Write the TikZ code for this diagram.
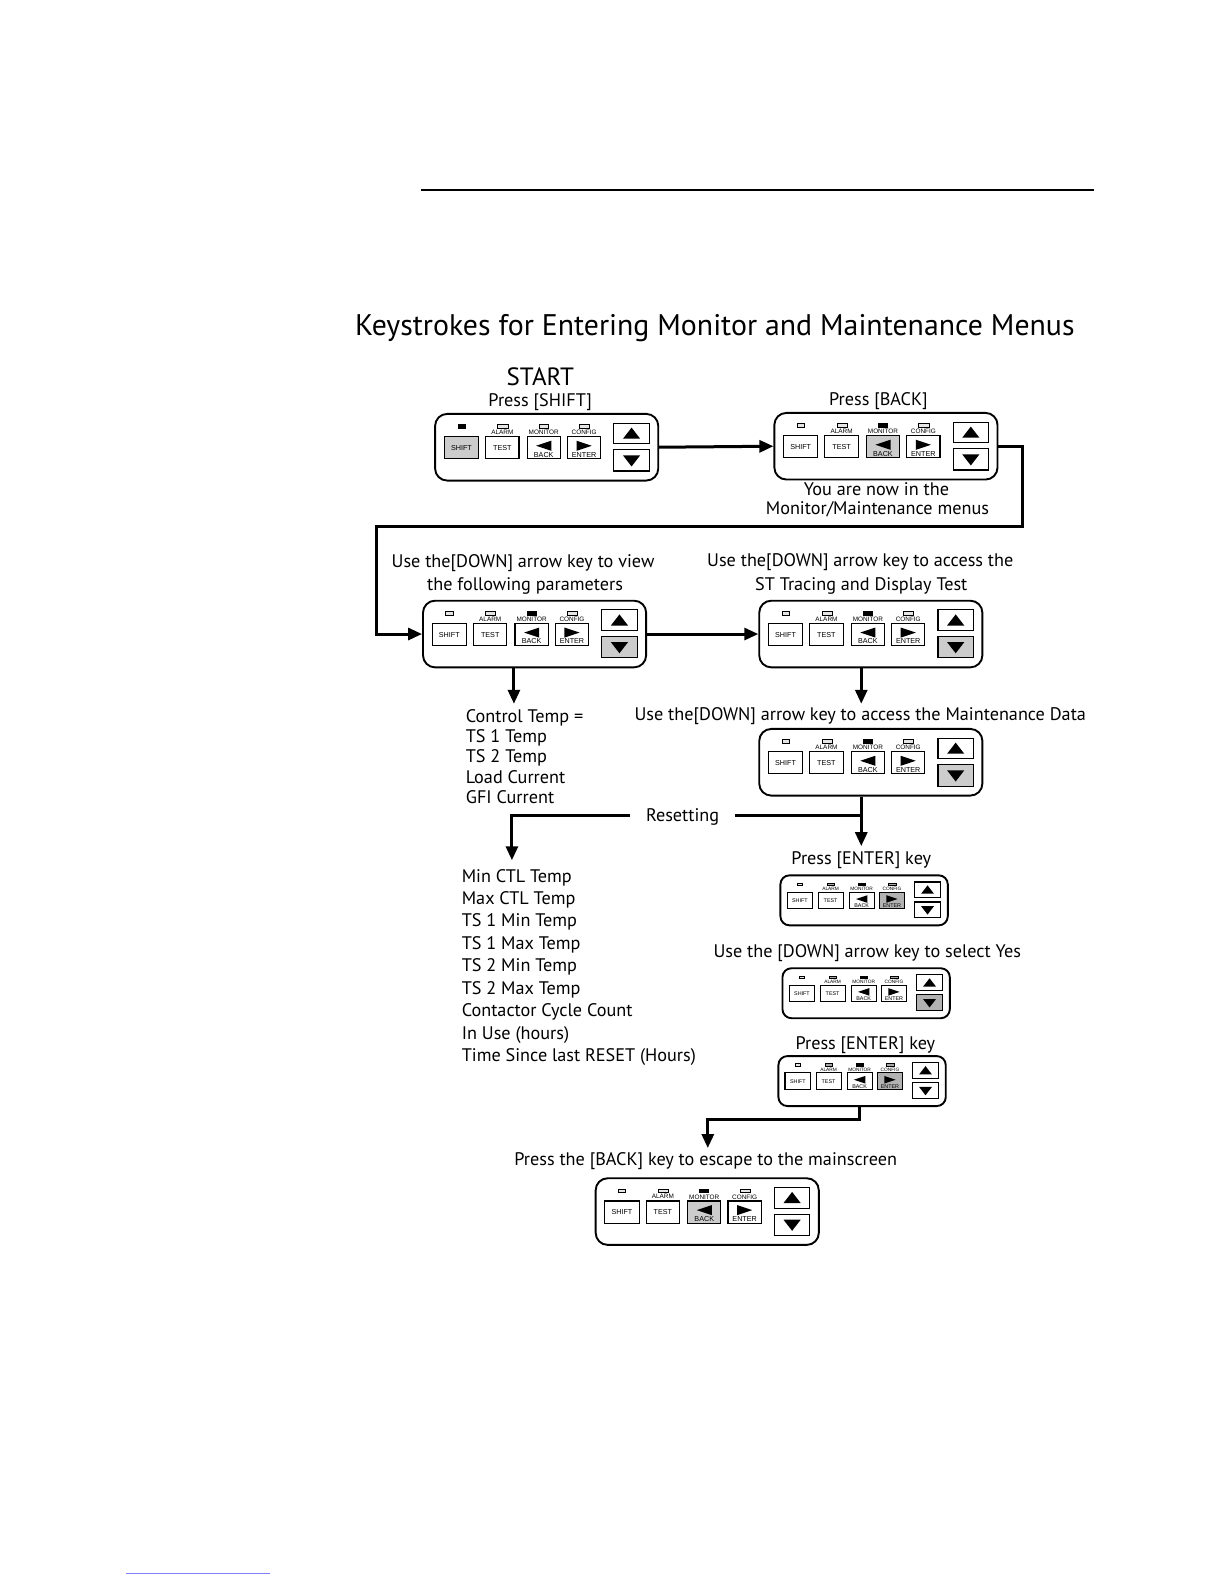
\documentclass[tikz,border=0pt]{standalone}
\usepackage{fontspec}
\setmainfont{PT Sans}
\newfontfamily\keyfont{Liberation Sans}
\usetikzlibrary{arrows.meta}
\newcommand\bodyfont{\fontsize{9.1}{11}\selectfont}
\newcommand\Uu{0.50485}
\tikzset{
 kpbox/.style={draw, line width=0.95pt, inner sep=0pt, fill=white},
 key/.style={draw, line width=0.55pt, fill=white},
 led/.style={draw, line width=0.35pt, fill=gray!20},
 kshift/.style={}, ktest/.style={}, kback/.style={}, kenter/.style={}, kup/.style={}, kdown/.style={},
 ledA/.style={}, ledB/.style={}, ledC/.style={}, ledD/.style={},
 conn/.style={line width=1.5pt, -{Triangle[length=7pt,width=6pt]}},
 plain/.style={line width=1.5pt},
 txt/.style={font=\bodyfont, inner sep=0pt, text height=6.6pt, text depth=0pt},
 ltxt/.style={txt, anchor=west},
 hl/.style={fill=gray!40},
 hldark/.style={fill=gray!60},
}
% #1 name, #2 x, #3 y, #4 scale, #5 options
\newcommand\keypad[5]{%
\begin{scope}[shift={(#2,#3)}, scale=#4, #5]%
\pgfmathsetmacro\kfs{3.6*#4}%
\pgfmathsetmacro\klf{3.2*#4}%
\node[kpbox, rounded corners={6pt*#4}, minimum width={221*\Uu pt*#4}, minimum height={66*\Uu pt*#4}, anchor=north west] (#1) at (0,0) {};%
\draw[led, ledA] (23.5,11.5) rectangle (30.5,15);%
\draw[led, ledB] (63,11.5) rectangle (73,15);%
\draw[led, ledC] (104,11.5) rectangle (113,15);%
\draw[led, ledD] (144,11.5) rectangle (154,15);%
\begin{scope}[every node/.style={inner sep=0pt, font=\keyfont\fontsize{\klf pt}{\klf pt}\selectfont}]%
\node (#1-la) at (67.5,19.3) {ALARM};%
\node (#1-lm) at (108.5,19.3) {MONITOR};%
\node (#1-lc) at (148.5,19.3) {CONFIG};%
\end{scope}%
\draw[key, kshift] (10,23.5) rectangle (44,45.5);%
\draw[key, ktest] (51,23.5) rectangle (84,45.5);%
\draw[key, kback] (92,23.5) rectangle (125,45.5);%
\draw[key, kenter] (132,23.5) rectangle (165,45.5);%
\draw[key, kup] (178,10) rectangle (213,30.5);%
\draw[key, kdown] (178,36.5) rectangle (213,57.5);%
\fill (101,32.5) -- (116,27.5) -- (116,37.5) -- cycle;%
\fill (156,32.5) -- (141,27.5) -- (141,37.5) -- cycle;%
\fill (195.5,14.5) -- (204,25.5) -- (187,25.5) -- cycle;%
\fill (195.5,53) -- (204,42) -- (187,42) -- cycle;%
\begin{scope}[every node/.style={inner sep=0pt, font=\keyfont\fontsize{\kfs pt}{\kfs pt}\selectfont}]%
\node (#1-ks) at (27,34.5) {SHIFT};%
\node (#1-kt) at (67.5,34.5) {TEST};%
\node (#1-kb) at (108.5,41.3) {BACK};%
\node (#1-ke) at (148.5,41.3) {ENTER};%
\end{scope}%
\end{scope}}

\begin{document}
\begin{tikzpicture}[x=\Uu pt,y=-\Uu pt]
\useasboundingbox (0,0) rectangle (1212.2,1568.8);
\fill[white] (0,0) rectangle (1212.2,1568.8);

% header rule and footer rule
\coordinate (h1) at (417,188); \coordinate (h2) at (1083,188);
\draw[line width=0.7pt] (h1) -- (h2);
\coordinate (f1) at (125,1558); \coordinate (f2) at (267,1558);
\draw[blue!50, line width=0.5pt] (f1) -- (f2);

% title
\node[inner sep=0pt, font=\fontsize{14.9}{16}\selectfont] (title) at (708,325) {Keystrokes for Entering Monitor and Maintenance Menus};

% keypads
\keypad{k1}{430}{409}{1}{kshift/.style={hl}, ledA/.style={fill=black}}
\keypad{k2}{766}{408}{1}{kback/.style={hl}, ledC/.style={fill=black}}
\keypad{k3}{418}{594}{1}{kdown/.style={hl}, ledC/.style={fill=black}}
\keypad{k4}{751}{594}{1}{kdown/.style={hl}, ledC/.style={fill=black}}
\keypad{k5}{751}{721}{1}{kdown/.style={hl}, ledC/.style={fill=black}}
\keypad{k6}{772}{866}{0.75}{kenter/.style={hldark}, ledB/.style={fill=gray!70}, ledC/.style={fill=black}, ledD/.style={fill=gray!70}}
\keypad{k7}{774}{958}{0.75}{kdown/.style={hldark}, ledB/.style={fill=gray!70}, ledC/.style={fill=black}, ledD/.style={fill=gray!70}}
\keypad{k8}{770}{1045}{0.75}{kenter/.style={hldark}, ledB/.style={fill=gray!70}, ledC/.style={fill=black}, ledD/.style={fill=gray!70}}
\keypad{k9}{589}{1166}{1}{kback/.style={hl}, ledC/.style={fill=black}}

% texts
\node[inner sep=0pt, font=\fontsize{12.5}{14}\selectfont, text height=9pt, text depth=0pt] (start) at (535,373) {START};
\node[txt] (t1) at (535,396) {Press [SHIFT]};
\node[txt] (t2) at (870,395) {Press [BACK]};
\node[txt] (t3) at (868,484) {You are now in the};
\node[txt] (t4) at (869,503) {Monitor/Maintenance menus};
\node[txt] (t5) at (518,556) {Use the[DOWN] arrow key to view};
\node[txt] (t6) at (520,578) {the following parameters};
\node[txt] (t7) at (852,555) {Use the[DOWN] arrow key to access the};
\node[txt] (t8) at (853,578) {ST Tracing and Display Test};
\node[txt] (t9) at (852,707) {Use the[DOWN] arrow key to access the Maintenance Data};
\node[txt, inner xsep=8pt] (reset) at (676,807) {Resetting};
\node[txt] (t10) at (853,850) {Press [ENTER] key};
\node[txt] (t11) at (859,942) {Use the [DOWN] arrow key to select Yes};
\node[txt] (t12) at (857,1033) {Press [ENTER] key};
\node[txt] (t13) at (699,1148) {Press the [BACK] key to escape to the mainscreen};

\foreach \t [count=\i] in {Control Temp =, TS 1 Temp, TS 2 Temp, Load Current, GFI Current}
  \node[ltxt] (pa\i) at (461,{709+20*(\i-1)}) {\t};
\foreach \t [count=\i] in {Min CTL Temp, Max CTL Temp, TS 1 Min Temp, TS 1 Max Temp, TS 2 Min Temp, TS 2 Max Temp, Contactor Cycle Count, In Use (hours), Time Since last RESET (Hours)}
  \node[ltxt] (pb\i) at (457,{867+22.25*(\i-1)}) {\t};

% connectors
\draw[conn] (k1.east) -- (k2.west);
\coordinate (c1) at (1013,521);
\coordinate (c2) at (373,521);
\draw[conn] (k2.east) -| (c1) -- (c2) |- (k3.west);
\draw[conn] (k3.east) -- (k4.west);
\coordinate (a3) at (509,697);
\draw[conn] (k3.south -| a3) -- (a3);
\coordinate (a4) at (853,697);
\draw[conn] (k4.south -| a4) -- (a4);
\coordinate (j1) at (853,808);
\coordinate (a5) at (853,838);
\draw[conn] (k5.south -| j1) -- (a5);
\draw[plain] (j1) -- (reset.east |- j1);
\coordinate (a6) at (507,852);
\draw[conn] (reset.west |- j1) -| (a6);
\coordinate (b1) at (851,1109);
\coordinate (a7) at (701,1137);
\draw[conn] (k8.south -| b1) -- (b1) -| (a7);
\end{tikzpicture}
\end{document}
